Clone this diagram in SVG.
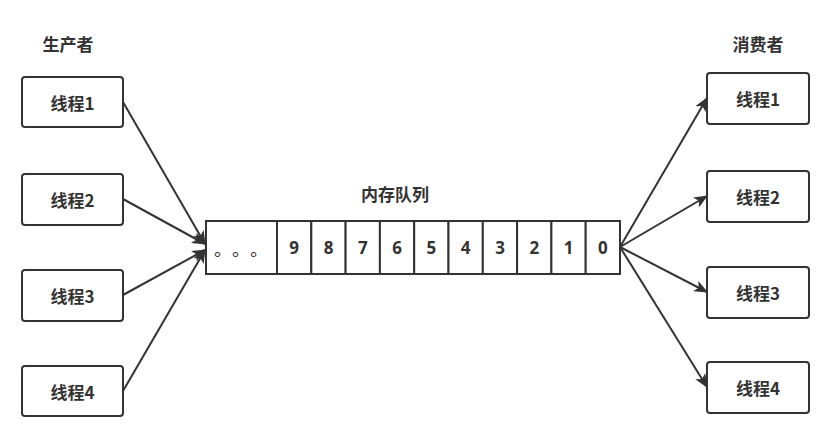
<svg xmlns="http://www.w3.org/2000/svg" width="828" height="444" viewBox="0 0 828 444">
<style>
.box{fill:#fff;stroke:#333;stroke-width:2}
.cell{fill:#fff;stroke:#333;stroke-width:2}
.t{font-family:"Noto Sans CJK SC","Liberation Sans",sans-serif;font-weight:bold;font-size:17px;fill:#333;text-anchor:middle;dominant-baseline:central}
.h{font-family:"Noto Sans CJK SC","Liberation Sans",sans-serif;font-weight:bold;font-size:17px;fill:#333;text-anchor:middle;dominant-baseline:central}
.n{font-family:"Open Sans","Liberation Sans",sans-serif;font-weight:bold;font-size:17px;fill:#333;text-anchor:middle;dominant-baseline:central}
.c{fill:none;stroke:#333;stroke-width:2}
</style>
<defs>
<marker id="a" viewBox="0 0 12 10" refX="11" refY="5" markerWidth="14" markerHeight="12" markerUnits="userSpaceOnUse" orient="auto">
<path d="M0,0 L12,5 L0,10 L3,5 Z" fill="#333"/>
</marker>
</defs>
<rect width="828" height="444" fill="#fff"/>
<text class="h" x="68" y="43">生产者</text>
<text class="h" x="758" y="43">消费者</text>
<text class="h" x="395" y="193">内存队列</text>
<g id="connectors">
<line class="c" x1="123" y1="102" x2="205" y2="244" marker-end="url(#a)"/>
<line class="c" x1="123" y1="199" x2="205" y2="244" marker-end="url(#a)"/>
<line class="c" x1="123" y1="295" x2="205" y2="250" marker-end="url(#a)"/>
<line class="c" x1="123" y1="391" x2="205" y2="250" marker-end="url(#a)"/>
<line class="c" x1="620" y1="247" x2="707" y2="98" marker-end="url(#a)"/>
<line class="c" x1="620" y1="247" x2="707" y2="196" marker-end="url(#a)"/>
<line class="c" x1="620" y1="247" x2="707" y2="292" marker-end="url(#a)"/>
<line class="c" x1="620" y1="247" x2="707" y2="387" marker-end="url(#a)"/>
</g>
<g id="p1"><rect class="box" x="22" y="77" width="101" height="50" rx="3"/><text class="t" x="72.5" y="102">线程1</text></g>
<g id="p2"><rect class="box" x="22" y="174" width="101" height="51" rx="3"/><text class="t" x="72.5" y="199.5">线程2</text></g>
<g id="p3"><rect class="box" x="22" y="270" width="101" height="51" rx="3"/><text class="t" x="72.5" y="295.5">线程3</text></g>
<g id="p4"><rect class="box" x="22" y="366" width="101" height="50" rx="3"/><text class="t" x="72.5" y="391">线程4</text></g>
<g id="c1"><rect class="box" x="707" y="73" width="102" height="51" rx="3"/><text class="t" x="758" y="98.5">线程1</text></g>
<g id="c2"><rect class="box" x="707" y="171" width="102" height="51" rx="3"/><text class="t" x="758" y="196.5">线程2</text></g>
<g id="c3"><rect class="box" x="707" y="267" width="102" height="51" rx="3"/><text class="t" x="758" y="292.5">线程3</text></g>
<g id="c4"><rect class="box" x="707" y="362" width="102" height="51" rx="3"/><text class="t" x="758" y="387.5">线程4</text></g>
<g id="queue">
<rect class="cell" x="206" y="221" width="71" height="53"/>
<text x="214 232 250" y="248" font-family="Noto Sans CJK SC,sans-serif" font-size="18" fill="#333" dominant-baseline="central">。。。</text>
<rect class="cell" x="277" y="221" width="34.3" height="53"/><text class="n" x="294.2" y="247">9</text>
<rect class="cell" x="311.3" y="221" width="34.3" height="53"/><text class="n" x="328.5" y="247">8</text>
<rect class="cell" x="345.6" y="221" width="34.3" height="53"/><text class="n" x="362.8" y="247">7</text>
<rect class="cell" x="379.9" y="221" width="34.3" height="53"/><text class="n" x="397.1" y="247">6</text>
<rect class="cell" x="414.2" y="221" width="34.3" height="53"/><text class="n" x="431.4" y="247">5</text>
<rect class="cell" x="448.5" y="221" width="34.3" height="53"/><text class="n" x="465.7" y="247">4</text>
<rect class="cell" x="482.8" y="221" width="34.3" height="53"/><text class="n" x="500" y="247">3</text>
<rect class="cell" x="517.1" y="221" width="34.3" height="53"/><text class="n" x="534.3" y="247">2</text>
<rect class="cell" x="551.4" y="221" width="34.3" height="53"/><text class="n" x="568.6" y="247">1</text>
<rect class="cell" x="585.7" y="221" width="34.3" height="53"/><text class="n" x="602.9" y="247">0</text>
</g>
</svg>
